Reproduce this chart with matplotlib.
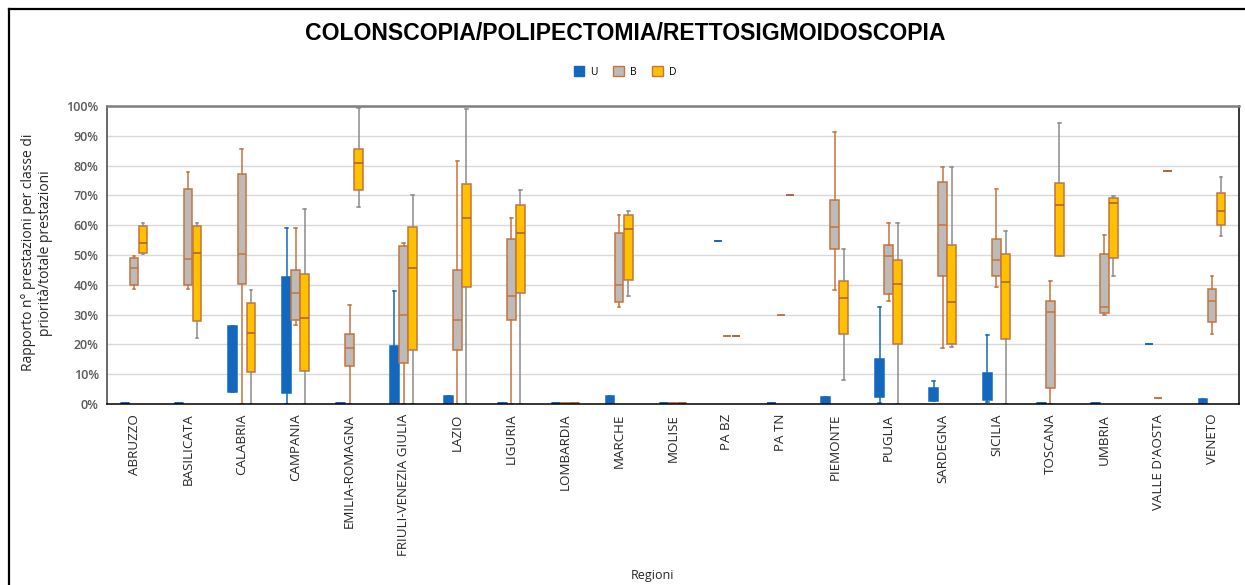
import matplotlib
matplotlib.use("Agg")
import matplotlib.pyplot as plt
from matplotlib.patches import Patch
from matplotlib.lines import Line2D

# regioni
regions = ["ABRUZZO", "BASILICATA", "CALABRIA", "CAMPANIA", "EMILIA-ROMAGNA",
           "FRIULI-VENEZIA GIULIA", "LAZIO", "LIGURIA", "LOMBARDIA", "MARCHE",
           "MOLISE", "PA BZ", "PA TN", "PIEMONTE", "PUGLIA", "SARDEGNA",
           "SICILIA", "TOSCANA", "UMBRIA", "VALLE D'AOSTA", "VENETO"]

# classe U (valori in %)
u_lo = [0, 0, 3.9, 0, 0, 0, 0, 0, 0, 0.3, 0, 54.8, 0.3, 0.3, 0.3, 1.1, 0.6, 0, 0, 20.0, 0.3]
u_q1 = [0.1, 0.1, 3.9, 3.6, 0.1, 0.3, 0.2, 0.1, 0.1, 0.3, 0.1, 54.8, 0.3, 0.3, 2.2, 1.1, 1.5, 0.1, 0.1, 20.0, 0.3]
u_med = [0.3, 0.3, 15.0, 20.0, 0.3, 8.0, 1.5, 0.3, 0.2, 1.5, 0.2, 54.8, 0.3, 1.2, 8.0, 3.0, 5.0, 0.3, 0.3, 20.0, 1.0]
u_q3 = [0.5, 0.5, 26.2, 42.6, 0.5, 19.3, 2.6, 0.5, 0.3, 2.8, 0.3, 54.8, 0.3, 2.2, 15.1, 5.5, 10.4, 0.5, 0.5, 20.0, 1.8]
u_hi = [0.5, 0.5, 26.2, 59.2, 0.5, 38.0, 2.6, 0.5, 0.3, 2.8, 0.3, 54.8, 0.3, 2.2, 32.5, 7.7, 23.2, 0.5, 0.5, 20.0, 1.8]

# classe B
b_lo = [38.6, 38.6, 0, 26.5, 0, 0, 0, 0, 0, 32.4, 0, 22.7, 29.8, 38.1, 34.7, 18.7, 39.4, 0, 29.7, 2.0, 23.4]
b_q1 = [39.8, 39.8, 40.3, 28.1, 12.9, 13.7, 18.1, 28.1, 0.1, 34.2, 0.1, 22.7, 29.8, 52.1, 36.8, 42.8, 42.8, 5.4, 30.5, 2.0, 27.5]
b_med = [45.8, 48.8, 50.5, 37.4, 18.8, 29.9, 28.2, 36.1, 0.2, 39.8, 0.2, 22.7, 29.8, 59.4, 49.8, 59.9, 48.4, 30.8, 32.5, 2.0, 34.5]
b_q3 = [49.0, 72.0, 77.3, 45.1, 23.5, 52.9, 44.8, 55.4, 0.3, 57.4, 0.3, 22.7, 29.8, 68.3, 53.2, 74.6, 55.5, 34.7, 50.5, 2.0, 38.7]
b_hi = [49.5, 77.7, 85.7, 59.2, 33.3, 53.9, 81.6, 62.5, 0.3, 63.5, 0.3, 22.7, 29.8, 91.4, 60.8, 79.6, 72.2, 41.4, 56.6, 2.0, 43.1]

# classe D
d_lo = [50.5, 22.1, 0, 0, 66.2, 0, 0, 0, 0, 36.1, 0, 22.7, 70.2, 8.1, 0, 19.0, 0, 49.5, 43.0, 78.3, 56.4]
d_q1 = [50.6, 27.8, 10.6, 11.0, 71.9, 18.1, 39.4, 37.2, 0.1, 41.7, 0.1, 22.7, 70.2, 23.4, 20.2, 20.2, 21.7, 49.5, 49.0, 78.3, 60.0]
d_med = [54.0, 50.7, 23.9, 28.7, 81.0, 45.6, 62.5, 57.4, 0.2, 58.8, 0.2, 22.7, 70.2, 35.7, 40.2, 34.2, 41.1, 66.9, 67.3, 78.3, 64.9]
d_q3 = [59.8, 59.8, 33.8, 43.6, 85.7, 59.4, 73.9, 66.9, 0.3, 63.5, 0.3, 22.7, 70.2, 41.4, 48.4, 53.5, 50.5, 74.2, 69.2, 78.3, 70.9]
d_hi = [60.8, 60.8, 38.4, 65.3, 99.4, 70.3, 99.1, 71.9, 0.3, 64.8, 0.3, 22.7, 70.2, 52.1, 60.8, 79.6, 57.9, 94.4, 69.9, 78.3, 76.3]

BLUE = "#1368BE"
GREY = "#BDBAB8"
GOLD = "#FFC000"
BROWN = "#C4743F"
WGREY = "#8C8C8C"

plt.rcParams["font.family"] = ["Open Sans", "DejaVu Sans"]

fig = plt.figure(figsize=(12.45, 5.85), dpi=100)
ax = fig.add_axes([0.086, 0.3094, 0.9092, 0.5094])


def stats(lo, q1, med, q3, hi):
    return [dict(whislo=a, q1=b, med=c, q3=d, whishi=e, fliers=[])
            for a, b, c, d, e in zip(lo, q1, med, q3, hi)]


series = [
    (stats(u_lo, u_q1, u_med, u_q3, u_hi), -0.168, BLUE, BLUE, BLUE, BLUE),
    (stats(b_lo, b_q1, b_med, b_q3, b_hi), 0.0, GREY, BROWN, BROWN, BROWN),
    (stats(d_lo, d_q1, d_med, d_q3, d_hi), 0.168, GOLD, BROWN, WGREY, "#A8622E"),
]
x = list(range(len(regions)))
for st, off, fc, ec, wc, mc in series:
    ax.bxp(st, positions=[i + off for i in x], widths=0.16, capwidths=0.05,
           patch_artist=True, showfliers=False, manage_ticks=False,
           boxprops=dict(facecolor=fc, edgecolor=ec, linewidth=1.1),
           whiskerprops=dict(color=wc, linewidth=1.1),
           capprops=dict(color=wc, linewidth=1.1),
           medianprops=dict(color=mc, linewidth=1.1))

ax.set_xlim(-0.5, len(regions) - 0.5)
ax.set_ylim(0, 100)
ax.set_yticks(range(0, 101, 10))
ax.set_yticklabels([f"{v}%" for v in range(0, 101, 10)], fontsize=9,
                   color="#595959", fontweight="semibold")
ax.set_xticks(x)
ax.set_xticklabels(regions, rotation=90, fontsize=9.6, color="#262626")
ax.tick_params(axis="both", length=0)
ax.tick_params(axis="x", pad=7)
ax.tick_params(axis="y", pad=6)
ax.grid(axis="y", color="#D9D9D9", linewidth=1)
ax.set_axisbelow(True)
ax.spines["top"].set_color("#7F7F7F")
ax.spines["top"].set_linewidth(1.8)
ax.spines["right"].set_color("#000000")
ax.spines["bottom"].set_color("#000000")
ax.spines["left"].set_color("#404040")
for s in ax.spines.values():
    if s is not ax.spines["top"]:
        s.set_linewidth(1.1)

fig.text(0.5025, 0.943, "COLONSCOPIA/POLIPECTOMIA/RETTOSIGMOIDOSCOPIA",
         ha="center", va="center", fontsize=16.6, fontweight="bold",
         family="Liberation Sans")

handles = [Patch(facecolor=BLUE, edgecolor=BLUE, label="U"),
           Patch(facecolor=GREY, edgecolor=BROWN, label="B"),
           Patch(facecolor=GOLD, edgecolor=BROWN, label="D")]
fig.legend(handles=handles, loc="center", bbox_to_anchor=(0.502, 0.877),
           ncol=3, frameon=False, fontsize=7.5, handlelength=1.0,
           handleheight=1.0, handletextpad=0.6, columnspacing=1.5)

fig.text(0.030, 0.568, "Rapporto n° prestazioni per classe di\npriorità/totale prestazioni",
         rotation=90, ha="center", va="center", multialignment="center",
         fontsize=10, color="#262626", linespacing=1.2)
fig.text(0.524, 0.017, "Regioni", ha="center", va="center", fontsize=9,
         color="#262626")

# cornice esterna
fig.add_artist(Line2D([0.0072, 1.0], [0.9846, 0.9846], color="black",
                      linewidth=1.6, transform=fig.transFigure))
fig.add_artist(Line2D([0.0072, 0.0072], [0.0, 0.9846], color="black",
                      linewidth=1.6, transform=fig.transFigure))

fig.savefig("out.png", dpi=100)
